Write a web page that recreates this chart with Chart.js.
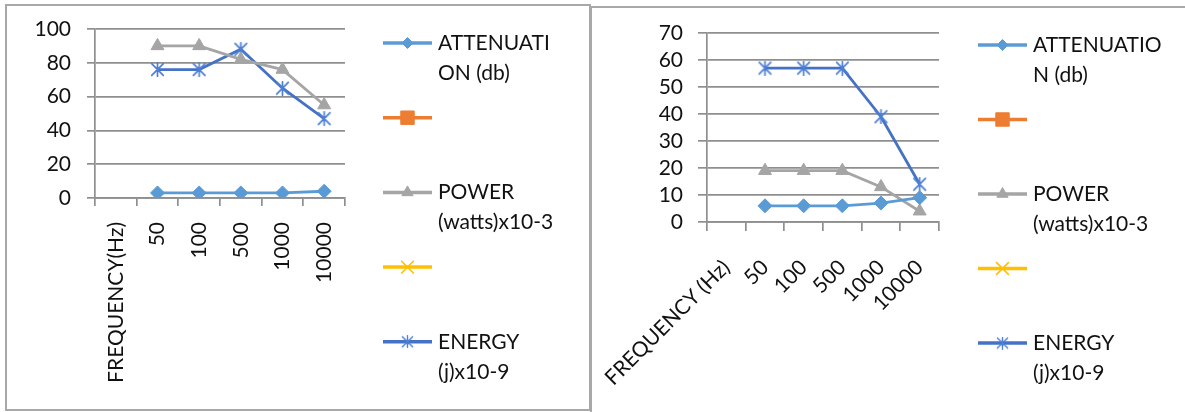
<!DOCTYPE html>
<html><head><meta charset="utf-8">
<script src="https://cdn.jsdelivr.net/npm/chart.js@4.4.1/dist/chart.umd.min.js"></script>
<style>
html,body{margin:0;padding:0;background:#fff;width:1185px;height:412px;overflow:hidden;}
.box{position:absolute;border:2px solid #a8a8a8;box-sizing:border-box;background:#fff;}
#b1{left:5px;top:4px;width:586px;height:407px;}
#b2{left:590px;top:6px;width:610px;height:420px;}
canvas{position:absolute;left:0;top:0;}
</style></head>
<body>
<div class="box" id="b1"><canvas id="c1" width="582" height="403"></canvas></div>
<div class="box" id="b2"><canvas id="c2" width="593" height="404"></canvas></div>
<script>
// ---- data ----
const categoriesLeft = ["FREQUENCY(Hz)", "50", "100", "500", "1000", "10000"];
const categoriesRight = ["FREQUENCY (Hz)", "50", "100", "500", "1000", "10000"];
const attenuationLeft = [null, 3, 3, 3, 3, 4];
const powerLeft = [null, 90, 90, 82, 76, 55];
const energyLeft = [null, 76, 76, 88, 65, 47];
const attenuationRight = [null, 6, 6, 6, 7, 9];
const powerRight = [null, 19, 19, 19, 13, 4];
const energyRight = [null, 57, 57, 57, 39, 14];
const emptySeries = [null, null, null, null, null, null];
const namesLeft = [["ATTENUATI", "ON (db)"], [], ["POWER", "(watts)x10-3"], [], ["ENERGY", "(j)x10-9"]];
const namesRight = [["ATTENUATIO", "N (db)"], [], ["POWER", "(watts)x10-3"], [], ["ENERGY", "(j)x10-9"]];
const yTicksLeft = {min: 0, max: 100, step: 20};
const yTicksRight = {min: 0, max: 70, step: 10};

// ---- styles ----
const FONT = "Lato";
const C_ATT = "#5B9BD5", C_ORG = "#ED7D31", C_PWR = "#A5A5A5", C_YEL = "#FFC000", C_NRG = "#4472C4";
const GRID = "#8f8f8f";
const TXT = "#111111";

function starMark(size, color, lw) {
  const c = document.createElement("canvas");
  c.width = size; c.height = size;
  const g = c.getContext("2d");
  g.strokeStyle = color; g.lineWidth = lw; g.lineCap = "round";
  const m = lw, s = size - lw;
  g.beginPath();
  g.moveTo(m, m); g.lineTo(s, s);
  g.moveTo(s, m); g.lineTo(m, s);
  g.moveTo(size / 2, m * 0.5); g.lineTo(size / 2, size - m * 0.5);
  g.stroke();
  return c;
}
const starBig = starMark(15, "#4d7fd6", 1.7);
const starSmall = starMark(13, "#4d7fd6", 1.4);

const sideLegend = {
  id: "sideLegend",
  afterDraw(chart, args, o) {
    const ctx = chart.ctx;
    ctx.save();
    chart.data.datasets.forEach((ds, i) => {
      const y = o.top + i * o.step;
      ctx.strokeStyle = ds.borderColor;
      ctx.lineWidth = o.lineWidth;
      ctx.beginPath(); ctx.moveTo(o.left, y); ctx.lineTo(o.left + o.lineLen, y); ctx.stroke();
      ctx.fillStyle = ds.backgroundColor;
      ctx.strokeStyle = ds.pointBorderColor || ds.borderColor;
      ctx.lineWidth = ds.legendMarkerBorder || 1;
      const st = ds.legendPointStyle || ds.pointStyle;
      Chart.helpers.drawPoint(ctx, {pointStyle: st, radius: ds.legendRadius || o.markerRadius, rotation: 0, borderWidth: ctx.lineWidth}, o.left + o.lineLen / 2, y);
      ctx.fillStyle = o.color; ctx.font = o.font; ctx.textBaseline = "middle"; ctx.textAlign = "left";
      (ds.nameLines || []).forEach((t, j) => ctx.fillText(t, o.left + o.lineLen + o.gap, y + j * o.lineHeight));
    });
    ctx.restore();
  }
};

function makeDatasets(att, pwr, nrg, names) {
  const base = {borderWidth: 2.8, pointRadius: 6, pointHoverRadius: 6, spanGaps: false, tension: 0, pointBorderWidth: 1};
  return [
    Object.assign({}, base, {label: names[0].join(""), nameLines: names[0], data: att, borderColor: C_ATT, backgroundColor: C_ATT, pointStyle: "rectRot", pointRadius: 7, legendRadius: 5.5}),
    Object.assign({}, base, {label: "", nameLines: names[1], data: emptySeries, borderColor: C_ORG, backgroundColor: C_ORG, pointStyle: "rect", legendRadius: 9.5}),
    Object.assign({}, base, {label: names[2].join(" "), nameLines: names[2], data: pwr, borderColor: C_PWR, backgroundColor: C_PWR, pointStyle: "triangle", pointRadius: 7.5, legendRadius: 6.5}),
    Object.assign({}, base, {label: "", nameLines: names[3], data: emptySeries, borderColor: C_YEL, backgroundColor: C_YEL, pointStyle: "crossRot", legendRadius: 9, legendMarkerBorder: 1.6}),
    Object.assign({}, base, {label: names[4].join(" "), nameLines: names[4], data: nrg, borderColor: C_NRG, backgroundColor: C_NRG, pointStyle: starBig, legendPointStyle: starSmall})
  ];
}

function makeChart(id, cats, datasets, yt, L) {
  return new Chart(document.getElementById(id), {
    type: "line",
    data: {labels: cats, datasets: datasets},
    plugins: [sideLegend],
    options: {
      responsive: false, animation: false, devicePixelRatio: 1,
      layout: {padding: {left: 0, right: L.padRight, top: L.padTop, bottom: 0}},
      plugins: {
        legend: {display: false}, tooltip: {enabled: false},
        sideLegend: {left: L.legLeft, top: L.legTop, step: L.legStep, lineLen: 49, gap: 6, lineWidth: 3.5,
          lineHeight: 30, markerRadius: 5, font: "21px " + FONT, color: TXT}
      },
      scales: {
        x: {
          offset: true,
          grid: {offset: true, drawOnChartArea: false, drawTicks: true, tickLength: L.tickLen, color: GRID, lineWidth: 1.7},
          border: {display: true, color: GRID, width: 1.7},
          ticks: {autoSkip: false, maxRotation: L.rot, minRotation: L.rot, padding: L.xPad, font: {family: FONT, size: 21}, color: TXT},
          afterFit(s) { s.height = L.xHeight; s.paddingLeft = 0; s.paddingRight = 0; }
        },
        y: {
          min: yt.min, max: yt.max,
          grid: {color: GRID, lineWidth: 1.7, tickLength: L.tickLen},
          border: {display: true, color: GRID, width: 1.7},
          ticks: {stepSize: yt.step, autoSkip: false, padding: L.yPad, font: {family: FONT, size: 21}, color: TXT},
          afterFit(s) { s.width = L.yWidth; s.paddingTop = 0; s.paddingBottom = 0; }
        }
      }
    }
  });
}

makeChart("c1", categoriesLeft, makeDatasets(attenuationLeft, powerLeft, energyLeft, namesLeft), yTicksLeft,
  {padRight: 244, padTop: 23, xHeight: 211, yWidth: 88, tickLen: 8, rot: 90, xPad: 16, yPad: 16,
   legLeft: 376, legTop: 37, legStep: 74.7});
makeChart("c2", categoriesRight, makeDatasets(attenuationRight, powerRight, energyRight, namesRight), yTicksRight,
  {padRight: 246, padTop: 25, xHeight: 190, yWidth: 115, tickLen: 9, rot: 45, xPad: 24, yPad: 15,
   legLeft: 386, legTop: 37, legStep: 74.5});
</script>
</body></html>
